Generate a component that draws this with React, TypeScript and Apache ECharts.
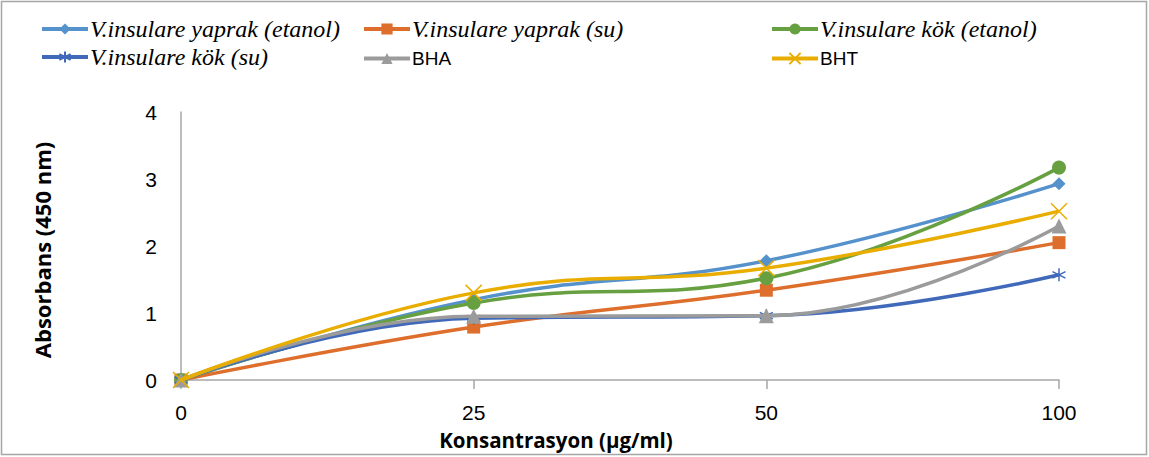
import React, { useEffect, useRef } from "react";
import * as echarts from "echarts";

const categories = ["0", "25", "50", "100"];
const seriesNames = [
  "V.insulare yaprak (etanol)",
  "V.insulare yaprak (su)",
  "V.insulare kök (etanol)",
  "V.insulare kök (su)",
  "BHA",
  "BHT",
];
const yaprakEtanol = [0, 1.2, 1.78, 2.93];
const yaprakSu = [0, 0.79, 1.34, 2.05];
const kokEtanol = [0, 1.15, 1.52, 3.17];
const kokSu = [0, 0.92, 0.96, 1.57];
const bha = [0, 0.95, 0.96, 2.3];
const bht = [0, 1.3, 1.67, 2.52];
const yTicks = [0, 1, 2, 3, 4];

const colors = ["#5591CB", "#DE6E2C", "#67A040", "#4169BA", "#9B9B9B", "#E9AD00"];

const asterisk = "path://M5 0 L5 10 M0 2.5 L10 7.5 M0 7.5 L10 2.5";
const cross = "path://M0 0 L10 10 M10 0 L0 10";

export default function App() {
  const ref = useRef<HTMLDivElement>(null);
  useEffect(() => {
    document.body.style.margin = "0";
    const chart = echarts.init(ref.current!, null, { renderer: "svg" });
    const data = [yaprakEtanol, yaprakSu, kokEtanol, kokSu, bha, bht];
    const symbols = ["diamond", "rect", "circle", asterisk, "triangle", cross];
    const sizes = [13, 13, 14, 13, 15, 16];
    const series = seriesNames.map((name, i) => {
      const stroked = i === 3 || i === 5;
      return {
        name,
        type: "line",
        data: data[i],
        smooth: 0.45,
        symbol: symbols[i],
        symbolSize: sizes[i],
        showAllSymbol: true,
        color: colors[i],
        lineStyle: { color: colors[i], width: 3.5 },
        itemStyle: stroked
          ? { color: "rgba(0,0,0,0)", borderColor: colors[i], borderWidth: 1.5 }
          : { color: colors[i], borderWidth: 0 },
        z: 2 + i,
      };
    });
    const legendPos = [
      { left: 40, top: 17 },
      { left: 362, top: 17 },
      { left: 770, top: 17 },
      { left: 40, top: 45 },
      { left: 362, top: 49 },
      { left: 770, top: 49 },
    ];
    const legends = seriesNames.map((name, i) => ({
      data: [name],
      left: legendPos[i].left,
      top: legendPos[i].top,
      itemWidth: 46,
      itemHeight: 14,
      itemGap: 0,
      padding: 0,
      lineStyle: { width: 4 },
      formatter: (n: string) => (n.startsWith("V.") ? "{i|" + n + "}" : "{s|" + n + "}"),
      textStyle: {
        padding: [0, 0, 0, -3],
        rich: {
          i: {
            fontFamily: "Liberation Serif",
            fontStyle: "italic",
            fontSize: 24,
            lineHeight: 28,
            color: "#000",
          },
          s: { fontFamily: "Liberation Sans", fontSize: 19, lineHeight: 22, color: "#000" },
        },
      },
    }));
    chart.setOption({
      animation: false,
      backgroundColor: "#fff",
      legend: legends,
      grid: { left: 181, right: 90, top: 112, bottom: 77, containLabel: false },
      xAxis: {
        type: "category",
        data: categories,
        boundaryGap: false,
        axisLine: { lineStyle: { color: "#A6A6A6", width: 1.5 } },
        axisTick: { show: true, length: 9, alignWithLabel: true, lineStyle: { color: "#A6A6A6", width: 1.5 } },
        axisLabel: { fontSize: 21, color: "#000", margin: 22, fontFamily: "Liberation Sans" },
        splitLine: { show: false },
      },
      yAxis: {
        type: "value",
        min: yTicks[0],
        max: yTicks[yTicks.length - 1],
        interval: 1,
        axisLine: { show: true, lineStyle: { color: "#A6A6A6", width: 1.5 } },
        axisTick: { show: false },
        axisLabel: { fontSize: 21, color: "#000", margin: 24, fontFamily: "Liberation Sans" },
        splitLine: { show: false },
      },
      graphic: [
        {
          type: "rect",
          shape: { x: 1.5, y: 1.5, width: 1145, height: 453 },
          style: { fill: "none", stroke: "#A6A6A6", lineWidth: 1.5 },
          silent: true,
        },
        {
          type: "text",
          x: 556,
          y: 440,
          style: {
            text: "Konsantrasyon (µg/ml)",
            fontFamily: "Open Sans",
            fontWeight: "bold",
            fontSize: 20.5,
            fill: "#000",
            align: "center",
            verticalAlign: "middle",
          },
        },
        {
          type: "text",
          x: 42,
          y: 250,
          rotation: Math.PI / 2,
          style: {
            text: "Absorbans (450 nm)",
            fontFamily: "Open Sans",
            fontWeight: "bold",
            fontSize: 22,
            fill: "#000",
            align: "center",
            verticalAlign: "middle",
          },
        },
      ],
      series,
    });
    return () => chart.dispose();
  }, []);
  return <div ref={ref} style={{ width: 1149, height: 457 }} />;
}
